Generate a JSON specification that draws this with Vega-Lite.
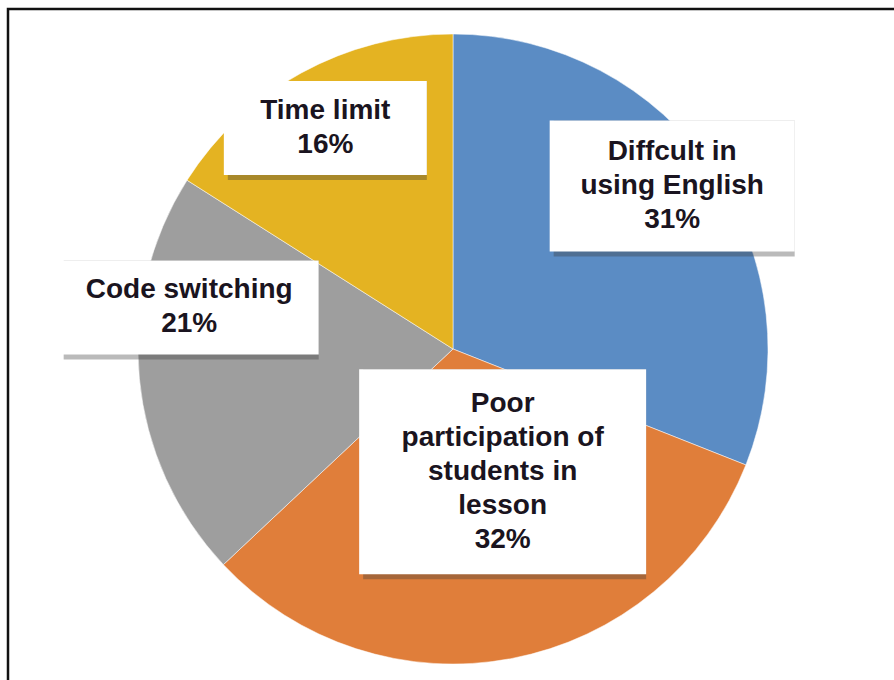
{
  "$schema": "https://vega.github.io/schema/vega-lite/v6.json",
  "width": 890,
  "height": 680,
  "padding": {"left": 8, "top": 9, "right": 0, "bottom": 0},
  "autosize": {"type": "none"},
  "background": "white",
  "config": {"view": {"stroke": "#111111", "strokeWidth": 2.5}, "font": "Liberation Sans"},
  "data": {
    "values": [
      {"category": "Diffcult in using English", "lines": ["Diffcult in", "using English"], "value": 31},
      {"category": "Poor participation of students in lesson", "lines": ["Poor", "participation of", "students in", "lesson"], "value": 32},
      {"category": "Code switching", "lines": ["Code switching"], "value": 21},
      {"category": "Time limit", "lines": ["Time limit"], "value": 16}
    ]
  },
  "transform": [
    {"window": [{"op": "sum", "field": "value", "as": "end"}], "frame": [null, 0]},
    {"calculate": "datum.end - datum.value", "as": "start"},
    {"calculate": "join(datum.lines, '\\n') + '\\n' + datum.value + '%'", "as": "label"},
    {"calculate": "length(datum.lines) + 1", "as": "nLines"},
    {"calculate": "max(length(datum.lines[0] || ''), length(datum.lines[1] || ''), length(datum.lines[2] || ''), length(datum.lines[3] || ''))", "as": "maxLen"},
    {"calculate": "14 * datum.maxLen + 63", "as": "boxW"},
    {"calculate": "37 * datum.nLines + 20", "as": "boxH"},
    {"calculate": "(datum.start + datum.end) / 200 * 2 * PI", "as": "mid"},
    {"calculate": "265 * sin(datum.mid)", "as": "lx"},
    {"calculate": "59 + 185 * cos(datum.mid)", "as": "ly"},
    {"calculate": "datum.ly + (datum.nLines - 1) * 17", "as": "ty"},
    {"calculate": "datum.lx - datum.boxW / 2", "as": "bx1"},
    {"calculate": "datum.lx + datum.boxW / 2", "as": "bx2"},
    {"calculate": "datum.ly - datum.boxH / 2", "as": "by1"},
    {"calculate": "datum.ly + datum.boxH / 2", "as": "by2"}
  ],
  "layer": [
    {
      "mark": {"type": "arc", "radius": 315, "stroke": "#ffffff", "strokeWidth": 1, "strokeOpacity": 0.5},
      "encoding": {
        "theta": {"field": "start", "type": "quantitative", "scale": {"domain": [0, 100]}},
        "theta2": {"field": "end"},
        "color": {
          "field": "category",
          "type": "nominal",
          "scale": {
            "domain": ["Diffcult in using English", "Poor participation of students in lesson", "Code switching", "Time limit"],
            "range": ["#5b8cc4", "#e07e3a", "#9e9e9e", "#e4b322"]
          },
          "legend": null
        }
      }
    },
    {
      "mark": {"type": "rect", "fill": "#3a3a3a", "opacity": 0.35, "xOffset": 4, "yOffset": 5},
      "encoding": {
        "x": {"field": "bx1", "type": "quantitative", "scale": {"domain": [-445, 445], "nice": false, "zero": false}, "axis": null},
        "x2": {"field": "bx2"},
        "y": {"field": "by1", "type": "quantitative", "scale": {"domain": [-340, 340], "nice": false, "zero": false}, "axis": null},
        "y2": {"field": "by2"}
      }
    },
    {
      "mark": {"type": "rect", "fill": "#ffffff"},
      "encoding": {
        "x": {"field": "bx1", "type": "quantitative", "scale": {"domain": [-445, 445], "nice": false, "zero": false}, "axis": null},
        "x2": {"field": "bx2"},
        "y": {"field": "by1", "type": "quantitative", "scale": {"domain": [-340, 340], "nice": false, "zero": false}, "axis": null},
        "y2": {"field": "by2"}
      }
    },
    {
      "mark": {"type": "text", "fontSize": 28, "fontWeight": "bold", "lineBreak": "\n", "lineHeight": 34, "align": "center", "baseline": "middle", "fill": "#1a1420"},
      "encoding": {
        "x": {"field": "lx", "type": "quantitative", "scale": {"domain": [-445, 445], "nice": false, "zero": false}, "axis": null},
        "y": {"field": "ty", "type": "quantitative", "scale": {"domain": [-340, 340], "nice": false, "zero": false}, "axis": null},
        "text": {"field": "label"}
      }
    }
  ]
}
